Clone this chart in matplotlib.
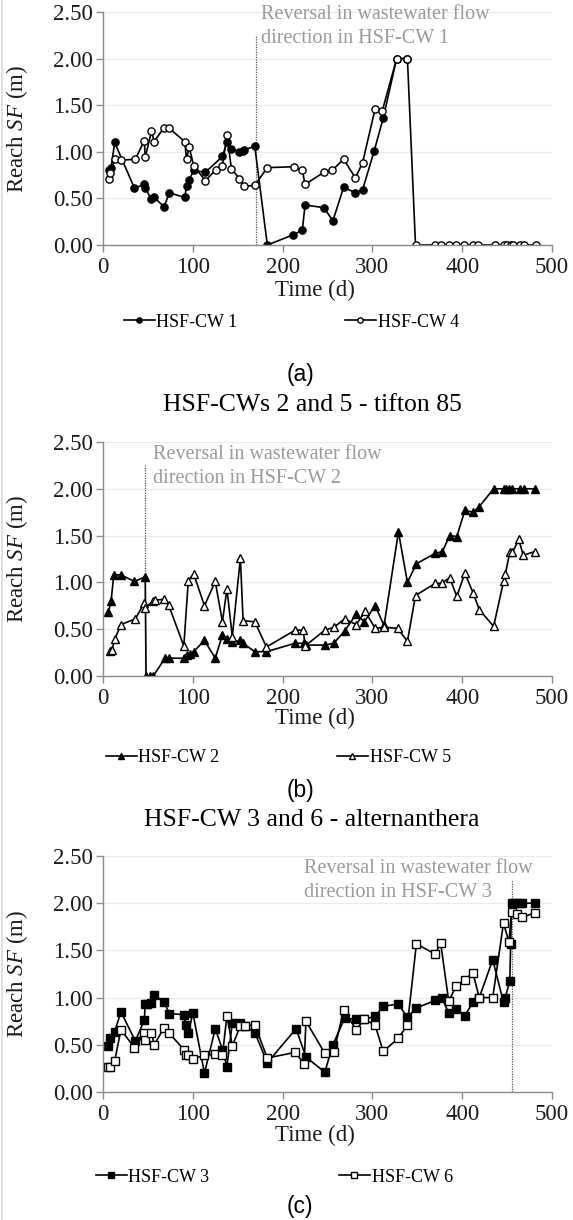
import numpy as np
import matplotlib
matplotlib.use('Agg')
import matplotlib.pyplot as plt
from matplotlib.lines import Line2D

plt.rcParams['font.family'] = ['Liberation Serif', 'DejaVu Serif']
plt.rcParams['mathtext.fontset'] = 'custom'
plt.rcParams['mathtext.it'] = 'Liberation Serif:italic'
plt.rcParams['mathtext.rm'] = 'Liberation Serif'

# (a) HSF-CW 1 and 4
cw1_days = [7, 9, 13, 35, 46, 47, 54, 57, 68, 74, 91, 93, 96, 101, 114, 133, 138, 143, 152, 156,
            157, 169, 183, 212, 222, 225, 246, 256, 268, 281, 289, 302, 312, 327, 339]
cw1_sf = [0.80, 0.83, 1.10, 0.61, 0.65, 0.61, 0.49, 0.51, 0.41, 0.56, 0.51, 0.63, 0.70, 0.80, 0.78,
          0.95, 1.10, 1.03, 1.00, 1.01, 1.02, 1.06, 0.00, 0.11, 0.16, 0.43, 0.40, 0.26, 0.62, 0.56,
          0.59, 1.01, 1.36, 2.00, 2.00]
cw4_days = [7, 8, 13, 20, 36, 46, 47, 54, 57, 68, 74, 91, 93, 96, 101, 114, 126, 133, 138, 143,
            152, 157, 169, 183, 213, 222, 225, 246, 255, 268, 281, 289, 303, 311, 327, 339,
            348, 370, 376, 385, 393, 402, 412, 418, 436, 447, 450, 454, 457, 464, 469, 482]
cw4_sf = [0.71, 0.77, 0.92, 0.91, 0.92, 1.12, 0.94, 1.22, 1.11, 1.26, 1.25, 1.11, 0.92, 1.05, 0.85,
          0.69, 0.81, 0.85, 1.18, 0.82, 0.71, 0.63, 0.64, 0.83, 0.84, 0.80, 0.65, 0.78, 0.80, 0.92,
          0.72, 0.88, 1.46, 1.44, 2.00, 2.00,
          0, 0, 0, 0, 0, 0, 0, 0, 0, 0, 0, 0, 0, 0, 0, 0]

# (b) HSF-CW 2 and 5
cw2_days = [6, 9, 12, 20, 35, 47, 48, 52, 56, 69, 73, 90, 93, 97, 101, 113, 125, 133, 138, 144,
            153, 156, 169, 182, 214, 224, 226, 247, 257, 269, 282, 291, 303, 313, 329, 339, 349, 370,
            378, 386, 394, 403, 412, 419, 435, 446, 449, 452, 455, 464, 469, 481]
cw2_sf = [0.68, 0.80, 1.08, 1.08, 1.01, 1.06, 0.00, 0.00, 0.00, 0.19, 0.19, 0.19, 0.22, 0.23, 0.26,
          0.38, 0.19, 0.44, 0.40, 0.36, 0.38, 0.35, 0.26, 0.26, 0.35, 0.35, 0.33, 0.33, 0.35, 0.48,
          0.66, 0.58, 0.75, 0.54, 1.54, 1.00, 1.20, 1.31, 1.33, 1.50, 1.49, 1.77, 1.75, 1.81, 2.00,
          2.00, 2.00, 2.00, 2.00, 2.00, 2.00, 2.00]
cw5_days = [8, 10, 13, 20, 36, 46, 47, 56, 58, 68, 73, 90, 95, 101, 113, 125, 133, 138, 144, 153,
            156, 169, 182, 214, 223, 225, 247, 257, 269, 282, 292, 303, 313, 328, 339, 348, 370, 377,
            386, 394, 403, 412, 419, 435, 446, 448, 453, 456, 463, 468, 481]
cw5_sf = [0.27, 0.28, 0.39, 0.55, 0.61, 0.78, 0.73, 0.80, 0.81, 0.82, 0.76, 0.32, 1.02, 1.09, 0.75,
          1.01, 0.58, 0.93, 0.42, 1.26, 0.59, 0.58, 0.31, 0.49, 0.49, 0.32, 0.49, 0.52, 0.61, 0.55,
          0.69, 0.51, 0.52, 0.51, 0.37, 0.86, 0.99, 0.99, 1.05, 0.85, 1.10, 0.89, 0.71, 0.53, 1.01,
          1.09, 1.32, 1.32, 1.46, 1.29, 1.33]

# (c) HSF-CW 3 and 6
cw3_days = [6, 8, 13, 20, 36, 46, 47, 49, 54, 57, 68, 74, 90, 92, 95, 100, 113, 125, 133, 138,
            144, 153, 158, 169, 183, 215, 226, 247, 256, 269, 282, 290, 303, 312, 329, 339, 349, 370,
            377, 385, 393, 403, 412, 419, 434, 446, 448, 453, 454, 455, 458, 463, 467, 481]
cw3_sf = [0.49, 0.57, 0.64, 0.85, 0.54, 0.76, 0.93, 0.93, 0.94, 1.03, 0.95, 0.83, 0.82, 0.71, 0.62,
          0.84, 0.20, 0.67, 0.45, 0.27, 0.73, 0.73, 0.70, 0.63, 0.31, 0.67, 0.37, 0.21, 0.50, 0.78,
          0.77, 0.77, 0.80, 0.91, 0.93, 0.79, 0.89, 0.97, 1.00, 0.84, 0.88, 0.81, 0.95, 1.00, 1.40,
          0.95, 1.00, 1.18, 1.57, 2.00, 2.00, 2.00, 2.00, 2.00]
cw6_days = [6, 8, 13, 20, 35, 46, 47, 54, 57, 68, 74, 90, 92, 95, 100, 113, 125, 133, 138, 144,
            153, 158, 169, 183, 214, 224, 226, 247, 257, 268, 282, 291, 303, 312, 329, 339, 349, 370,
            376, 385, 393, 403, 412, 419, 434, 446, 452, 455, 461, 467, 481]
cw6_sf = [0.26, 0.27, 0.33, 0.66, 0.47, 0.62, 0.55, 0.63, 0.50, 0.68, 0.62, 0.45, 0.39, 0.39, 0.35,
          0.39, 0.40, 0.39, 0.81, 0.49, 0.70, 0.70, 0.71, 0.36, 0.42, 0.30, 0.75, 0.41, 0.42, 0.87,
          0.66, 0.77, 0.71, 0.43, 0.57, 0.71, 1.57, 1.46, 1.58, 0.96, 1.12, 1.19, 1.26, 1.00, 1.00,
          1.79, 1.59, 1.91, 1.89, 1.85, 1.90]

reversal_day = [170, 47, 456]
note_x = [176, 56, 224]
note_y = [2.34, 2.24, 2.24]
titles = [None, 'HSF-CWs 2 and 5 - tifton 85', 'HSF-CW 3 and 6 - alternanthera']
panel_tags = ['(a)', '(b)', '(c)']
series = [
    [('HSF-CW 1', cw1_days, cw1_sf, 'o', 'black'), ('HSF-CW 4', cw4_days, cw4_sf, 'o', 'white')],
    [('HSF-CW 2', cw2_days, cw2_sf, '^', 'black'), ('HSF-CW 5', cw5_days, cw5_sf, '^', 'white')],
    [('HSF-CW 3', cw3_days, cw3_sf, 's', 'black'), ('HSF-CW 6', cw6_days, cw6_sf, 's', 'white')],
]

W, H = 573, 1220
fig = plt.figure(figsize=(W / 100, H / 100), dpi=100)

def fy(px):
    return 1 - px / H

# pixel layout
ax_left, ax_right = 103, 552
ax_top = [12, 442, 856]
ax_bot = [245, 676, 1092]
xlab_y = [290, 718, 1135]
leg_y = [322, 758, 1177]
tag_y = [374, 790, 1206]
title_y = [None, 405, 820]
leg_x = [(124, 345), (106, 337), (96, 339)]

axis_col = '#8a8a8a'
for i in range(3):
    ax = fig.add_axes([ax_left / W, fy(ax_bot[i]), (ax_right - ax_left) / W, (ax_bot[i] - ax_top[i]) / H])
    ax.set_xlim(0, 500)
    ax.set_ylim(0, 2.5)
    ax.set_xticks(np.arange(0, 501, 100))
    ax.set_yticks(np.arange(0, 2.51, 0.5))
    ax.set_yticklabels(['%.2f' % v for v in np.arange(0, 2.51, 0.5)])
    ax.grid(axis='y', color='#ebebeb', lw=0.9)
    ax.set_axisbelow(True)
    for s in ['top', 'right']:
        ax.spines[s].set_visible(False)
    for s in ['left', 'bottom']:
        ax.spines[s].set_color(axis_col)
        ax.spines[s].set_linewidth(1.0)
    ax.tick_params(axis='both', colors=axis_col, labelcolor='#1a1a1a', labelsize=16.5,
                   length=5, width=1.0, direction='out')
    ax.tick_params(axis='x', pad=4)
    ax.tick_params(axis='y', pad=2)
    ax.set_ylabel('Reach $SF$ (m)', fontsize=16.5, color='#1a1a1a')
    ax.yaxis.set_label_coords((30 - ax_left) / (ax_right - ax_left), 0.5)

    ax.plot([reversal_day[i], reversal_day[i]], [0, 2.25], ls=(0, (1, 1)), color='#555555', lw=0.9)
    ax.text(note_x[i], note_y[i], 'Reversal in wastewater flow\ndirection in HSF-CW %d' % (i + 1),
            fontsize=14.5, color='#9a9a9a', va='center', ha='left', linespacing=1.35, clip_on=False)

    handles = []
    for label, d, v, m, fc in series[i]:
        ln, = ax.plot(d, v, color='black', lw=1.2, marker=m, ms=5.5 if m != 'o' else 5.2,
                      mfc=fc, mec='black', mew=1.0, label=label)
        handles.append(ln)

    fig.text(315 / W, fy(xlab_y[i]), 'Time (d)', fontsize=16.5, ha='center', va='center', color='#1a1a1a')
    for h, lx in zip(handles, leg_x[i]):
        hh = Line2D([], [], color='black', lw=1.2, marker=h.get_marker(), ms=3.8,
                    mfc=h.get_markerfacecolor(), mec='black', mew=1.0)
        fig.legend([hh], [h.get_label()], loc='center left', bbox_to_anchor=(lx / W, fy(leg_y[i])),
                   frameon=False, fontsize=13, handlelength=1.7, handletextpad=0.1,
                   borderpad=0, borderaxespad=0)
    fig.text(300 / W, fy(tag_y[i]), panel_tags[i], fontsize=16.5, ha='center', va='center',
             family='Liberation Sans')
    if titles[i]:
        fig.text(312 / W, fy(title_y[i]), titles[i], fontsize=18.5, ha='center', va='center')

fig.add_artist(Line2D([1.5 / W, 1.5 / W], [0, 1], color='#d9d9d9', lw=1.2))
fig.savefig('out.png', dpi=100)
